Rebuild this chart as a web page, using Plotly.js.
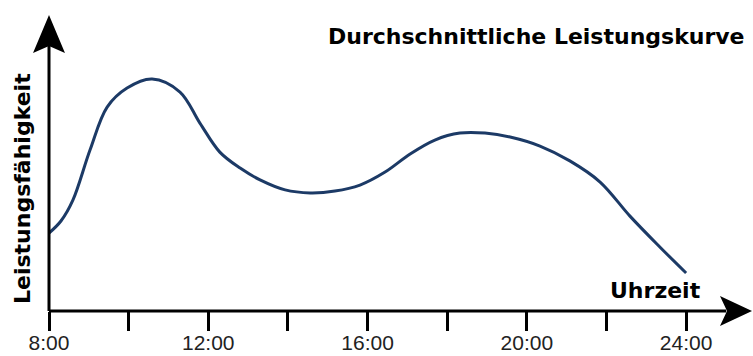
<!DOCTYPE html>
<html>
<head>
<meta charset="utf-8">
<script src="https://cdn.plot.ly/plotly-3.0.1.min.js"></script>
<style>
html,body{margin:0;padding:0;background:#fff;}
#chart{width:753px;height:356px;}
</style>
</head>
<body>
<div id="chart"></div>
<script>
// Uhrzeit (Stunden) und Leistungsfähigkeit (relativ, Maximum = 100)
var hours = [8.0, 8.3, 8.6, 9.03, 9.46, 9.96, 10.59, 11.29, 11.79, 12.29, 12.8, 13.3, 13.93, 14.56, 15.18, 15.81, 16.44, 17.07, 17.69, 18.32, 18.95, 19.58, 20.33, 21.08, 21.84, 22.59, 23.34, 24.0];
var performance = [33.6, 38.8, 47.8, 69.4, 87.9, 96.1, 100, 94.4, 81.0, 68.5, 61.6, 56.5, 52.2, 50.9, 51.7, 54.3, 59.9, 67.7, 73.7, 76.7, 76.7, 75.0, 71.1, 64.7, 55.6, 40.9, 27.6, 16.4];
var tickHours = [8, 10, 12, 14, 16, 18, 20, 22, 24];
var tickLabels = ['8:00', '', '12:00', '', '16:00', '', '20:00', '', '24:00'];
var chartTitle = 'Durchschnittliche Leistungskurve';
var xLabel = 'Uhrzeit';
var yLabel = 'Leistungsfähigkeit';

var boldFont = {family: 'DejaVu Sans, Verdana, sans-serif', size: 22, color: '#000', weight: 'bold'};

var trace = {
  x: hours,
  y: performance,
  type: 'scatter',
  mode: 'lines',
  line: {color: '#1c3a66', width: 3, shape: 'spline', smoothing: 1},
  hoverinfo: 'skip'
};

var layout = {
  width: 753,
  height: 356,
  margin: {l: 49, r: 0, t: 15, b: 45, pad: 0},
  paper_bgcolor: '#fff',
  plot_bgcolor: '#fff',
  showlegend: false,
  xaxis: {
    range: [8, 25.68],
    showgrid: false,
    zeroline: false,
    showline: false,
    tickmode: 'array',
    tickvals: tickHours,
    ticktext: tickLabels,
    ticks: 'outside',
    ticklen: 19,
    tickwidth: 3,
    tickcolor: '#000',
    ticklabelstandoff: -6,
    tickfont: {family: 'Liberation Sans, Arial, sans-serif', size: 21, color: '#222'},
    fixedrange: true
  },
  yaxis: {
    range: [0, 127.6],
    showgrid: false,
    zeroline: false,
    showline: false,
    showticklabels: false,
    ticks: '',
    fixedrange: true
  },
  shapes: [
    {type: 'line', xref: 'paper', yref: 'paper', x0: 0, x1: 0.962, y0: 0, y1: 0, line: {color: '#000', width: 3}},
    {type: 'line', xref: 'paper', yref: 'paper', x0: 0, x1: 0, y0: 0, y1: 0.895, line: {color: '#000', width: 3}},
    {type: 'path', xref: 'paper', yref: 'paper', path: 'M0.9986,0 L0.9531,0.0507 L0.9631,0 L0.9531,-0.0507 Z', fillcolor: '#000', line: {width: 0}},
    {type: 'path', xref: 'paper', yref: 'paper', path: 'M0,1 L-0.0227,0.8716 L0,0.8953 L0.0227,0.8716 Z', fillcolor: '#000', line: {width: 0}}
  ],
  annotations: [
    {text: chartTitle, xref: 'paper', yref: 'paper', x: 0.9915, y: 0.929, xanchor: 'right', yanchor: 'middle', showarrow: false, font: boldFont},
    {text: xLabel, xref: 'paper', yref: 'paper', x: 0.929, y: 0.0676, xanchor: 'right', yanchor: 'middle', showarrow: false, font: boldFont},
    {text: yLabel, xref: 'paper', yref: 'paper', x: -0.0384, y: 0.4155, xanchor: 'center', yanchor: 'middle', textangle: -90, showarrow: false, font: boldFont}
  ]
};

Plotly.newPlot('chart', [trace], layout, {displayModeBar: false, staticPlot: true});
</script>
</body>
</html>
